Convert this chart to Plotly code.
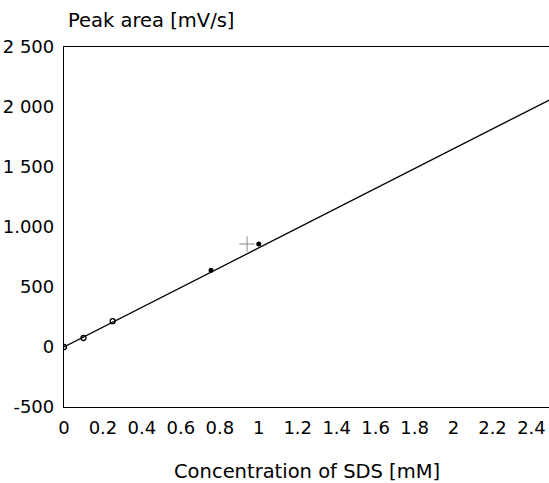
import plotly.graph_objects as go

# Data
conc_open = [0.0, 0.1, 0.25]
area_open = [0, 75, 215]
conc_filled = [0.755, 1.0]
area_filled = [640, 858]
cross_x = [0.94]
cross_y = [858]
fit_x = [0.0, 2.5]
fit_y = [0, 2065]

y_ticks = [-500, 0, 500, 1000, 1500, 2000, 2500]
y_ticktext = ["-500", "0", "500", "1.000", "1 500", "2 000", "2 500"]
x_ticks = [0, 0.2, 0.4, 0.6, 0.8, 1, 1.2, 1.4, 1.6, 1.8, 2, 2.2, 2.4]
x_ticktext = ["0", "0.2", "0.4", "0.6", "0.8", "1", "1.2", "1.4", "1.6", "1.8", "2", "2.2", "2.4"]

FONT = "DejaVu Sans, Liberation Sans, sans-serif"

fig = go.Figure()
fig.add_trace(go.Scatter(x=fit_x, y=fit_y, mode="lines",
                         line=dict(color="black", width=1.3), showlegend=False))
fig.add_trace(go.Scatter(x=conc_open, y=area_open, mode="markers",
                         marker=dict(symbol="circle-open", size=5, color="black",
                                     line=dict(width=1.3)), showlegend=False))
fig.add_trace(go.Scatter(x=conc_filled, y=area_filled, mode="markers",
                         marker=dict(symbol="circle", size=5, color="black"), showlegend=False))
fig.add_trace(go.Scatter(x=cross_x, y=cross_y, mode="markers",
                         marker=dict(symbol="cross-thin", size=11, color="#888",
                                     line=dict(width=1, color="#888")), showlegend=False))

fig.update_layout(
    width=549, height=483,
    margin=dict(l=64, r=0, t=47, b=76),
    paper_bgcolor="white", plot_bgcolor="white",
    font=dict(family=FONT, size=18, color="black"),
    xaxis=dict(range=[0, 2.49], tickvals=x_ticks, ticktext=x_ticktext,
               showgrid=False, zeroline=False, showline=True, linecolor="black",
               linewidth=1.3, mirror=True, ticks="", ticklabelstandoff=4),
    yaxis=dict(range=[-500, 2500], tickvals=y_ticks, ticktext=y_ticktext,
               showgrid=False, zeroline=False, showline=True, linecolor="black",
               linewidth=1.3, ticks="", ticklabelstandoff=5),
    annotations=[
        dict(text="Peak area [mV/s]", xref="paper", yref="paper",
             x=0, y=1, xanchor="left", yanchor="middle", yshift=27, xshift=2,
             showarrow=False, font=dict(size=19.5)),
        dict(text="Concentration of SDS [mM]", xref="paper", yref="paper",
             x=0.5, y=0, xanchor="center", yanchor="middle", yshift=-64,
             showarrow=False, font=dict(size=19.5)),
    ],
)

fig.write_html("out.html")
